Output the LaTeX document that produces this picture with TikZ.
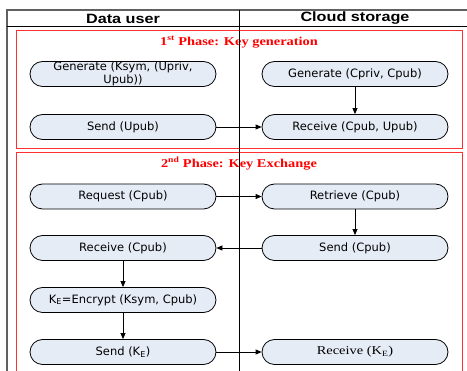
\documentclass[tikz,border=0pt]{standalone}
\usepackage{fontspec}
\setmainfont{DejaVu Sans}
\newfontfamily\hdrfont[FakeStretch=1.2]{Liberation Sans}
\newfontfamily\ttlfont[FakeStretch=1.2]{Liberation Serif}
\usetikzlibrary{arrows.meta}
\definecolor{nodefill}{HTML}{E6ECF6}
\definecolor{framegray}{HTML}{606060}
\definecolor{phasered}{HTML}{FF3030}
\begin{document}
\begin{tikzpicture}[x=1pt,y=-1pt,
  proc/.style={draw=black, line width=0.8pt, fill=nodefill, rounded corners=12.5pt,
    minimum width=186pt, minimum height=25pt, inner sep=0pt, align=center,
    font=\fontsize{11.5}{12.5}\selectfont},
  flow/.style={draw=black, line width=0.8pt, -{Triangle[length=6pt,width=5pt]}},
  phasebox/.style={draw=phasered, line width=1pt},
  phasetitle/.style={text=red, font=\ttlfont\bfseries\fontsize{12}{14}\selectfont},
  header/.style={font=\hdrfont\bfseries\fontsize{13.5}{16}\selectfont}]
\useasboundingbox (0,0) rectangle (467,371);
\fill[white] (0,0) rectangle (467,371);
% phase boxes
\draw[phasebox] (16,31) rectangle (462,149);
\draw[phasebox] (16,380) -- (16,153) -- (462,153) -- (462,380);
% titles
\node[phasetitle] (t1) at (239,42) {1\textsuperscript{st} Phase: Key generation};
\node[phasetitle] (t2) at (239,163.5) {2\textsuperscript{nd} Phase: Key Exchange};
% frame
\draw[framegray, line width=1.5pt] (7,380) -- (7,10) -- (470,10);
\draw[black, line width=1pt] (7,27) -- (470,27);
\draw[black, line width=1pt] (239,10) -- (239,380);
% headers
\node[header] (h1) at (123,18.5) {Data user};
\node[header] (h2) at (355,18.5) {Cloud storage};
% process nodes
\node[proc] (genU) at (123,74) {Generate (Ksym, (Upriv,\\Upub))};
\node[proc] (genC) at (355,74) {Generate (Cpriv, Cpub)};
\node[proc] (sendU) at (123,127) {Send (Upub)};
\node[proc] (recvC) at (355,127) {Receive (Cpub, Upub)};
\node[proc] (req) at (123,196.5) {Request (Cpub)};
\node[proc] (retr) at (355,196.5) {Retrieve (Cpub)};
\node[proc] (recvU) at (123,248) {Receive (Cpub)};
\node[proc] (sendC) at (355,248) {Send (Cpub)};
\node[proc] (enc) at (123,300) {K\textsubscript{E}=Encrypt (Ksym, Cpub)};
\node[proc] (sendK) at (123,352) {Send (K\textsubscript{E})};
\node[proc, font=\ttlfont\fontsize{12}{14}\selectfont] (recvK) at (355,352) {Receive (K\textsubscript{E})};
% connectors
\draw[flow] (genC) -- (recvC);
\draw[flow] (sendU) -- (recvC);
\draw[flow] (req) -- (retr);
\draw[flow] (retr) -- (sendC);
\draw[flow] (sendC) -- (recvU);
\draw[flow] (recvU) -- (enc);
\draw[flow] (enc) -- (sendK);
\draw[flow] (sendK) -- (recvK);
\end{tikzpicture}
\end{document}
